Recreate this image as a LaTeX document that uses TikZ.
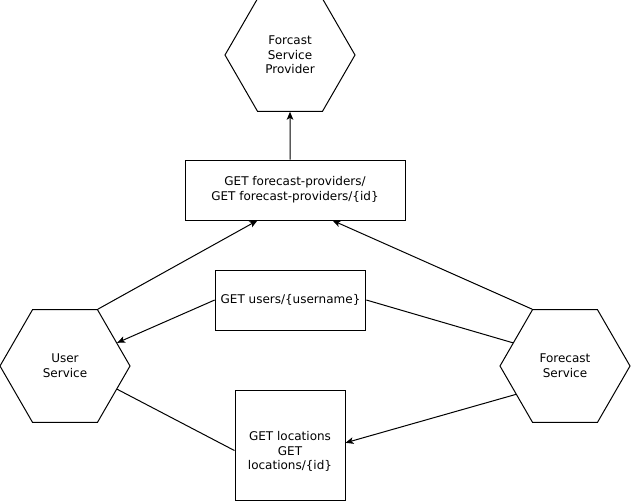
\documentclass[tikz,border=0pt]{standalone}
\usepackage{fontspec}
\setmainfont{DejaVu Sans}
\usetikzlibrary{shapes.geometric,calc,arrows.meta}

\tikzset{
  svc/.style={draw, regular polygon, regular polygon sides=6, minimum size=97.5pt, inner sep=0pt, align=center},
  api/.style={draw, rectangle, align=center, inner sep=2pt},
}

\begin{document}
\begin{tikzpicture}[>={Stealth[length=6pt,width=5pt,inset=1.5pt]}, x=0.75pt, y=-0.75pt, font=\fontsize{9}{11}\selectfont, line width=0.75pt]
  \useasboundingbox (0,0) rectangle (631,501);
  % services
  \node[svc] (prov) at (290,55) {Forcast\\Service\\Provider};
  \node[svc] (user) at (65,366) {User\\Service};
  \node[svc] (fc) at (565,366) {Forecast\\Service};
  % endpoints
  \node[api, minimum width=165pt, minimum height=45pt] (fp) at (295,190) {GET forecast-providers/\\GET forecast-providers/\{id\}};
  \node[api, minimum width=113pt, minimum height=45pt] (users) at (290.5,300) {GET users/\{username\}};
  \node[api, minimum size=82.5pt, label={[align=center, yshift=-5pt]center:GET locations\\GET\\locations/\{id\}}] (loc) at (290,445) {};
  % calls
  \draw[->] (prov |- fp.north) -- (prov.south);
  \draw[->] (user.60) -- ($(fp.south west)!.33!(fp.south east)$);
  \draw[->] (fc.120) -- ($(fp.south west)!.67!(fp.south east)$);
  \draw[->] (users.west) -- (user.24);
  \draw (users.east) -- (fc.156);
  \draw (user.-24) -- ($(loc.north west)!.55!(loc.south west)$);
  \draw[->] (fc.210) -- ($(loc.north east)!.48!(loc.south east)$);
\end{tikzpicture}
\end{document}
